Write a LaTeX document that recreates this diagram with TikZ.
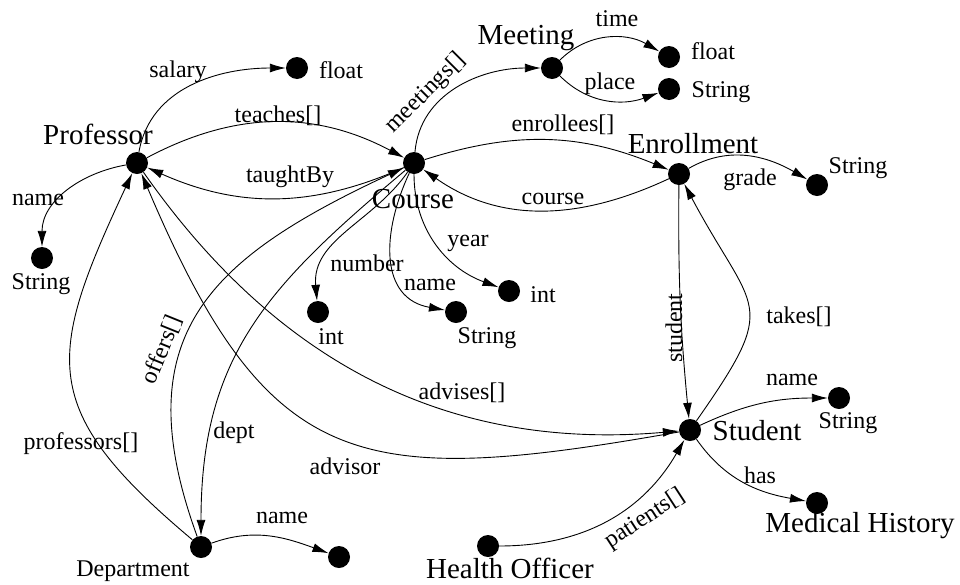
\documentclass[tikz,border=0pt]{standalone}
\usepackage{fontspec}
\setmainfont{Liberation Serif}
\usetikzlibrary{arrows.meta}

\begin{document}
\begin{tikzpicture}[x=1pt,y=1pt,
      obj/.style ={circle, fill=black, inner sep = 0pt, minimum size=22pt},
      cname/.style ={font=\fontsize{29}{34}\selectfont, inner sep=0pt},
      fname/.style ={font=\fontsize{24}{28}\selectfont, inner sep=0pt},
      field/.style ={-{Latex[length=16pt,width=9pt]}, line width=0.9pt}]
   \useasboundingbox (0,0) rectangle (960,-584);
   % objects
   \node[obj] (prof)   at (137,-163) {};
   \node[obj] (course) at (414,-163) {};
   \node[obj] (pfloat) at (297,-68)  {};
   \node[obj] (pstr)   at (42,-258)  {};
   \node[obj] (meet)   at (552,-68)  {};
   \node[obj] (mfloat) at (669,-57)  {};
   \node[obj] (mstr)   at (669,-89)  {};
   \node[obj] (enr)    at (679,-174) {};
   \node[obj] (gstr)   at (817,-185) {};
   \node[obj] (yint)   at (509,-291) {};
   \node[obj] (nint)   at (318,-312) {};
   \node[obj] (cstr)   at (456,-312) {};
   \node[obj] (dept)   at (201,-547) {};
   \node[obj] (dname)  at (339,-557) {};
   \node[obj] (health) at (488,-546) {};
   \node[obj] (stud)   at (690,-430) {};
   \node[obj] (sstr)   at (839,-398) {};
   \node[obj] (med)    at (817,-503) {};
   % type names
   \node[cname] (tprof)   at (98,-134)  {Professor};
   \node[cname] (tcourse) at (413,-199) {Course};
   \node[cname] (tmeet)   at (526,-38)  {Meeting};
   \node[cname] (tenr)    at (693,-144) {Enrollment};
   \node[cname] (tstud)   at (757,-431) {Student};
   \node[cname] (thealth) at (510,-568) {Health Officer};
   \node[cname] (tmed)    at (860,-526) {Medical History};
   \node[fname] (tdept)   at (133,-571) {Department};
   \node[fname] (tpfloat) at (341,-70)  {float};
   \node[fname] (tpstr)   at (41,-284)  {String};
   \node[fname] (tmfloat) at (713,-51)  {float};
   \node[fname] (tmstr)   at (721,-92)  {String};
   \node[fname] (tgstr)   at (858,-168) {String};
   \node[fname] (tyint)   at (543,-295) {int};
   \node[fname] (tnint)   at (331,-337) {int};
   \node[fname] (tcstr)   at (487,-338) {String};
   \node[fname] (tsstr)   at (848,-423) {String};
   % field labels
   \node[fname] (lsalary)   at (178,-72)  {salary};
   \node[fname] (lteaches)  at (278,-116) {teaches[]};
   \node[fname] (ltaught)   at (290,-177) {taughtBy};
   \node[fname] (lpname)    at (38,-200)  {name};
   \node[fname, rotate=45] (lmeetings) at (426,-93) {meetings[]};
   \node[fname] (ltime)     at (617,-19)  {time};
   \node[fname] (lplace)    at (610,-84)  {place};
   \node[fname] (lenrol)    at (563,-125) {enrollees[]};
   \node[fname] (lgrade)    at (750,-180) {grade};
   \node[fname] (lcourse)   at (553,-199) {course};
   \node[fname] (lyear)     at (468,-243) {year};
   \node[fname] (lnumber)   at (367,-263) {number};
   \node[fname] (lcname)    at (430,-285) {name};
   \node[fname, rotate=68] (loffers) at (162,-350) {offers[]};
   \node[fname] (lprofs)    at (81,-444)  {professors[]};
   \node[fname] (ldept)     at (234,-433) {dept};
   \node[fname] (ladvisor)  at (345,-466) {advisor};
   \node[fname] (ladvises)  at (462,-393) {advises[]};
   \node[fname] (ldname)    at (282,-518) {name};
   \node[fname, rotate=33] (lpatients) at (645,-519) {patients[]};
   \node[fname, rotate=90] (lstudent) at (674,-328) {student};
   \node[fname] (ltakes)    at (799,-317) {takes[]};
   \node[fname] (lsname)    at (792,-380) {name};
   \node[fname] (lhas)      at (760,-475) {has};
   % fields
   \draw[field] (prof) to[out=80,in=180] (pfloat);
   \draw[field] (prof) to[bend left=28] (course);
   \draw[field] (course) to[bend left=24] (prof);
   \draw[field] (prof) to[out=190,in=90] (pstr);
   \draw[field] (course) to[out=85,in=180] (meet);
   \draw[field] (meet) to[out=45,in=150] (mfloat);
   \draw[field] (meet) to[out=-45,in=200] (mstr);
   \draw[field] (course) to[bend left=20] (enr);
   \draw[field] (enr) to[out=205,in=-35] (course);
   \draw[field] (enr) to[out=30,in=150] (gstr);
   \draw[field] (enr) to[bend right=3] (stud);
   \draw[field] (stud) to[out=55,in=-62,looseness=1.6] (enr);
   \draw[field] (stud) to[out=25,in=180] (sstr);
   \draw[field] (stud) to[out=-55,in=170] (med);
   \draw[field] (health) to[out=0,in=240] (stud);
   \draw[field] (course) to[out=235,in=95] (nint);
   \draw[field] (course) to[out=245,in=170,looseness=1.2] (cstr);
   \draw[field] (course) to[out=270,in=160] (yint);
   \draw[field] (dept) to[out=140,in=245,looseness=1.4] (prof);
   \draw[field] (dept) to[out=110,in=205,looseness=1.3] (course);
   \draw[field] (course) to[out=220,in=90,looseness=1.1] (dept);
   \draw[field] (prof) to[out=-55,in=185] (stud);
   \draw[field] (stud) to[out=190,in=-67,looseness=1.4] (prof);
   \draw[field] (dept) to[out=20,in=160] (dname);
\end{tikzpicture}
\end{document}
